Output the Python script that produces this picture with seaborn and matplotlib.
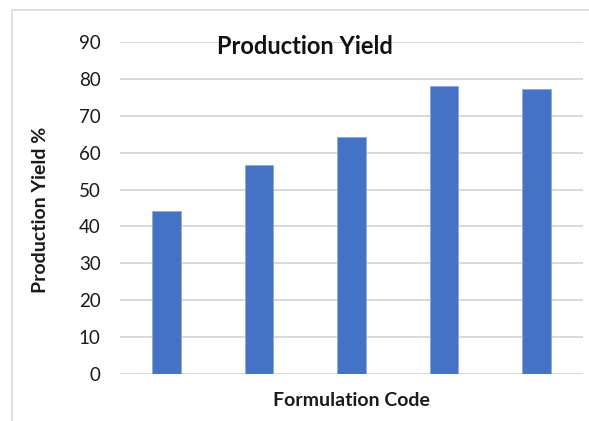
import matplotlib
matplotlib.use("Agg")
import matplotlib.pyplot as plt
from matplotlib.lines import Line2D
import seaborn as sns
import pandas as pd

# Formulation batches and their production yield (%)
formulations = ["F1", "F2", "F3", "F4", "F5"]
yield_pct = [44.2, 56.6, 64.3, 78.1, 77.2]
y_ticks = [0, 10, 20, 30, 40, 50, 60, 70, 80, 90]

df = pd.DataFrame({"Formulation": formulations, "Yield": yield_pct})

sns.set_theme(style="white")
plt.rcParams["font.family"] = ["Lato", "DejaVu Sans"]

fig = plt.figure(figsize=(5.89, 4.21), dpi=100)
W, H = 589, 421
ax = fig.add_axes([120 / W, 1 - 374 / H, 463 / W, (374 - 42) / H])

sns.barplot(data=df, x="Formulation", y="Yield", color="#4472C4",
            saturation=1, width=0.31, edgecolor="#8FAADC", linewidth=0.6,
            ax=ax, zorder=3)

ax.set_ylim(0, 90)
ax.set_yticks(y_ticks)
ax.set_yticklabels([str(t) for t in y_ticks], fontsize=13.5, color="#1a1a1a")
ax.tick_params(axis="y", length=0, pad=14)
ax.set_xticks(range(len(formulations)))
ax.set_xticklabels([])
ax.tick_params(axis="x", length=0)
ax.set_xlim(-0.5, len(formulations) - 0.5)

ax.grid(axis="y", color="#d9d9d9", linewidth=1.4, zorder=0)
ax.set_axisbelow(True)
for s in ax.spines.values():
    s.set_visible(False)

ax.set_xlabel("")
ax.set_ylabel("")
fig.text(351 / W, 1 - 400 / H, "Formulation Code", ha="center", va="center",
         fontsize=14, fontweight="bold", color="#1a1a1a")
fig.text(41 / W, 1 - 210 / H, "Production Yield %", ha="center", va="center",
         rotation=90, fontsize=14, fontweight="bold", color="#1a1a1a")
fig.text(305 / W, 1 - 47 / H, "Production Yield", ha="center", va="center",
         fontsize=17, fontweight="bold", color="#111111", zorder=5)

# outer chart frame
fig.add_artist(Line2D([12 / W, 12 / W], [0, 1 - 10 / H], transform=fig.transFigure,
                      color="#d9d9d9", linewidth=1.2))
fig.add_artist(Line2D([12 / W, 1], [1 - 10 / H, 1 - 10 / H], transform=fig.transFigure,
                      color="#d9d9d9", linewidth=1.2))

fig.savefig("out.png", dpi=100, facecolor="white")
